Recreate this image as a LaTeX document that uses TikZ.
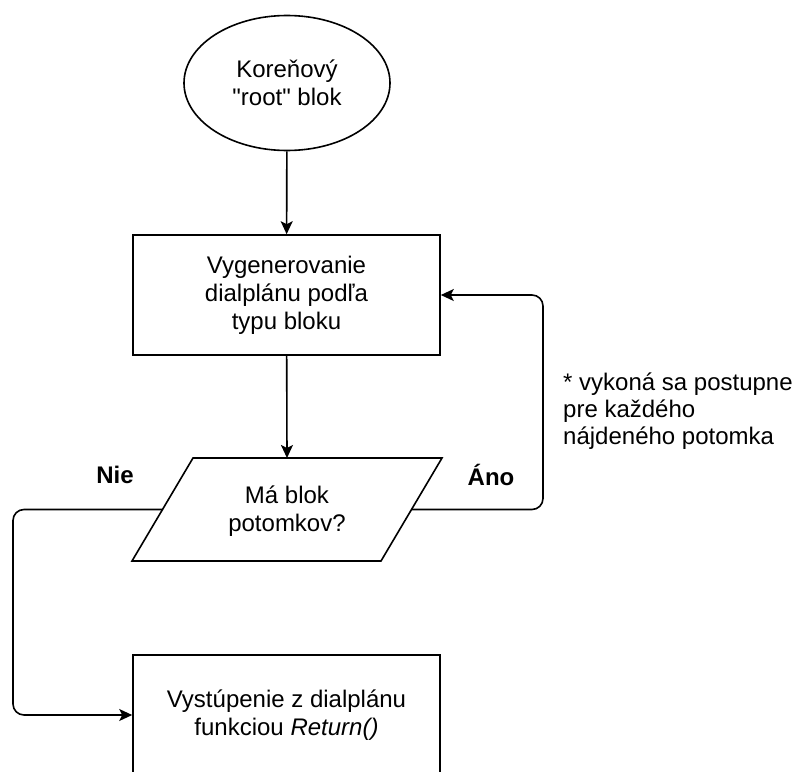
\documentclass[tikz,border=0pt]{standalone}
\usepackage{fontspec}
\setmainfont{Liberation Sans}[Ligatures=TeXOff]
\usetikzlibrary{shapes.geometric,arrows.meta}
\begin{document}
\begin{tikzpicture}[x=1pt,y=-1pt,
  every node/.style={font=\fontsize{24}{28}\selectfont, text=black},
  ln/.style={line width=1.6pt, draw=black},
  arr/.style={ln, -{Stealth[length=13pt,width=12pt,inset=3pt]}},
  boxst/.style={ln, rectangle, minimum width=307pt, minimum height=120pt, align=center, inner sep=0pt},
  lbl/.style={font=\fontsize{24}{28}\selectfont\bfseries}
]
\useasboundingbox (0,0) rectangle (795,771);
\clip (0,0) rectangle (795,771);

% root ellipse
\node[ln, ellipse, minimum width=206pt, minimum height=135pt, inner sep=0pt, align=center] (root) at (287,83) {Koreňový\\"root" blok};

% generation box
\node[boxst] (gen) at (286.5,295) {Vygenerovanie\\dialplánu podľa\\typu bloku};

% decision parallelogram
\coordinate (p1) at (193,458);
\coordinate (p2) at (442,458);
\coordinate (p3) at (381,561);
\coordinate (p4) at (132,561);
\draw[ln, line join=miter] (p1) -- (p2) -- (p3) -- (p4) -- cycle;
\node[align=center, inner sep=0pt] (dec) at (287,511) {Má blok\\potomkov?};
\coordinate (decT) at (287,458);
\coordinate (decL) at (163,509.5);
\coordinate (decR) at (411,509.5);

% exit box
\node[boxst] (ret) at (286.5,715) {Vystúpenie z dialplánu\\funkciou \textit{Return()}};

% connectors
\draw[arr] (root) -- (gen);
\draw[arr] (gen) -- (decT);
\coordinate (nw) at (13,509.5);
\coordinate (ae) at (543,509.5);
\draw[arr, rounded corners=11pt] (decL) -- (nw) |- (ret.west);
\draw[arr, rounded corners=11pt] (decR) -- (ae) |- (gen.east);

% labels
\node[lbl] (nie) at (115,475) {Nie};
\node[lbl] (ano) at (491,475) {Áno};
\node[anchor=west, align=left, inner sep=0pt, font=\fontsize{24}{27}\selectfont] (note) at (563,411) {* vykoná sa postupne\\pre každého\\nájdeného potomka};
\end{tikzpicture}
\end{document}
